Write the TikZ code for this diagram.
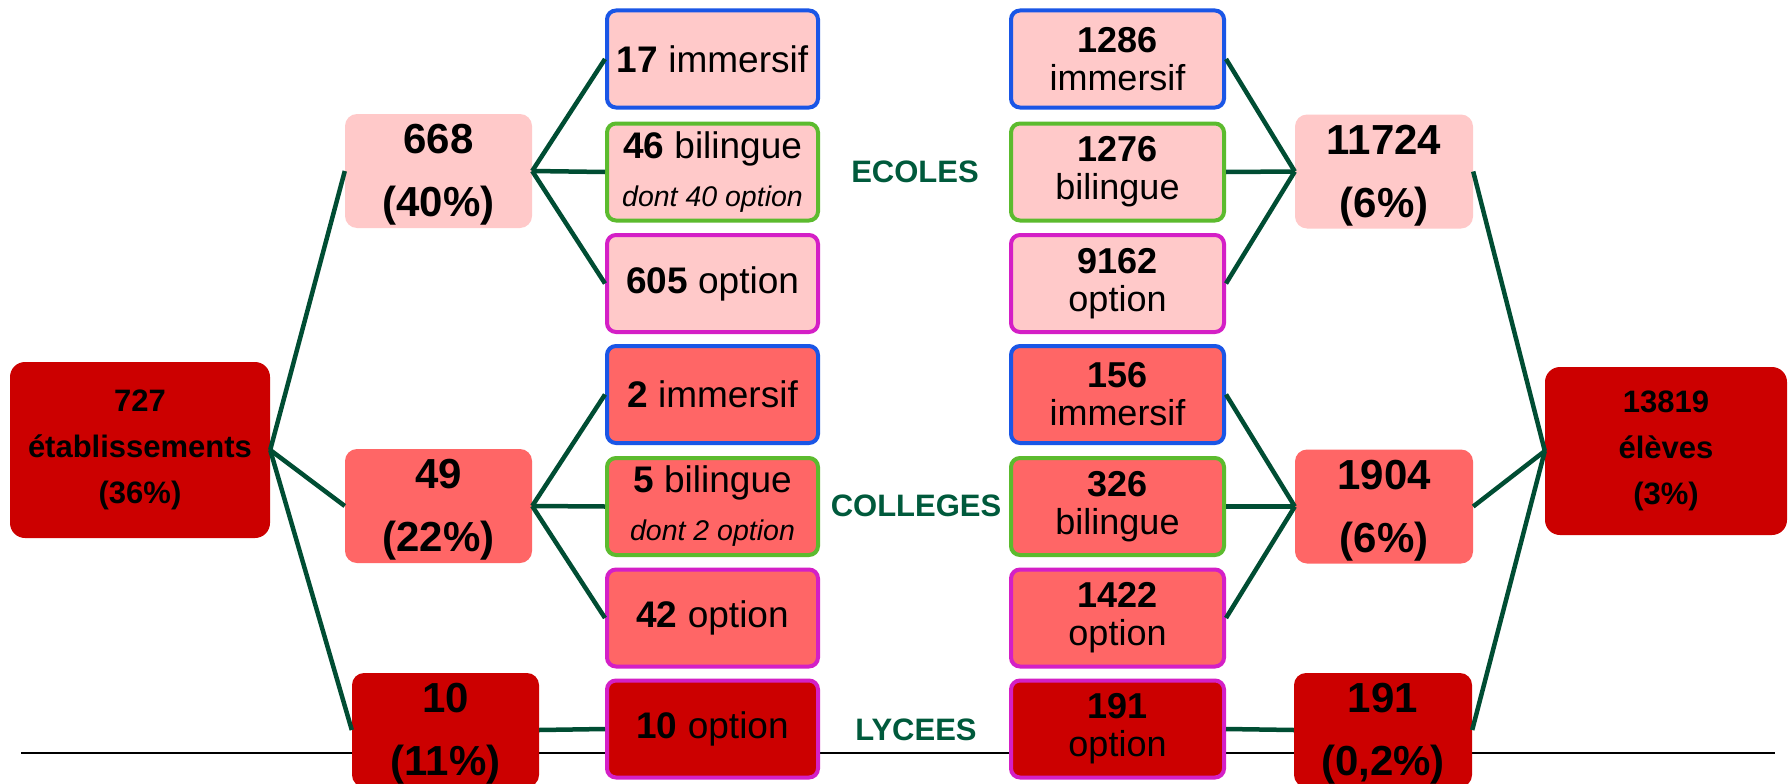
\documentclass[tikz,border=0pt]{standalone}
\usepackage{fontspec}
\setmainfont{Liberation Sans}
\definecolor{pinkL}{HTML}{FFC9C9}
\definecolor{salmon}{HTML}{FF6666}
\definecolor{darkred}{HTML}{CC0000}
\definecolor{bblue}{HTML}{1A56E6}
\definecolor{bgreen}{HTML}{5CBB2E}
\definecolor{bmag}{HTML}{D41FC6}
\definecolor{lnk}{HTML}{004D33}
\definecolor{lab}{HTML}{005A3C}
\newcommand{\aggstrut}{\rule{0pt}{37.5pt}}
\begin{document}
\begin{tikzpicture}[x=1pt,y=-1pt,
 agg/.style={rounded corners=12pt, minimum width=187pt, minimum height=114pt, inner sep=0pt, align=center, font=\fontsize{42}{63}\selectfont\bfseries},
 big/.style={rounded corners=15pt, inner sep=0pt, align=center, fill=darkred, font=\fontsize{31}{46}\selectfont\bfseries},
 sub/.style={rounded corners=9pt, line width=4pt, minimum width=211pt, minimum height=97pt, inner sep=0pt, align=center, font=\fontsize{37}{48}\selectfont},
 subr/.style={sub, minimum width=213pt, font=\fontsize{36}{38}\selectfont},
 lk/.style={draw=lnk, line width=4.5pt},
 lvl/.style={text=lab, inner sep=0pt, font=\fontsize{31}{37}\selectfont\bfseries}
]
\useasboundingbox (0,0) rectangle (1788,784);
\clip (0,0) rectangle (1788,784);
\fill[white] (0,0) rectangle (1788,784);

% base line
\coordinate (bl) at (21,753);
\coordinate (br) at (1775,753);
\draw[line width=1.5pt, black] (bl) -- (br);

% left totals
\node[big, minimum width=260pt, minimum height=176pt] (est) at (140,450) {727\\établissements\\(36\%)};
\node[agg, fill=pinkL] (e1) at (438.5,171) {\aggstrut 668\\(40\%)};
\node[agg, fill=salmon] (e2) at (438.5,506) {\aggstrut 49\\(22\%)};
\node[agg, fill=darkred] (e3) at (445.5,730) {\aggstrut 10\\(11\%)};

% middle left
\node[sub, fill=pinkL, draw=bblue] (l1) at (712.5,59) {\textbf{17} immersif};
\node[sub, fill=pinkL, draw=bgreen] (l2) at (712.5,172) {\textbf{46} bilingue\\{\fontsize{28.5}{48}\selectfont\itshape dont 40 option}};
\node[sub, fill=pinkL, draw=bmag] (l3) at (712.5,283.5) {\textbf{605} option};
\node[sub, fill=salmon, draw=bblue] (l4) at (712.5,394.5) {\textbf{2} immersif};
\node[sub, fill=salmon, draw=bgreen] (l5) at (712.5,506.5) {\textbf{5} bilingue\\{\fontsize{28.5}{48}\selectfont\itshape dont 2 option}};
\node[sub, fill=salmon, draw=bmag] (l6) at (712.5,618) {\textbf{42} option};
\node[sub, fill=darkred, draw=bmag] (l7) at (712.5,729) {\textbf{10} option};

% labels
\node[lvl] (ecoles) at (915,172) {ECOLES};
\node[lvl] (colleges) at (916,506) {COLLEGES};
\node[lvl] (lycees) at (916,730) {LYCEES};

% middle right
\node[subr, fill=pinkL, draw=bblue] (r1) at (1117.5,59) {\textbf{1286}\\immersif};
\node[subr, fill=pinkL, draw=bgreen] (r2) at (1117.5,172) {\textbf{1276}\\bilingue};
\node[subr, fill=pinkL, draw=bmag] (r3) at (1117.5,283.5) {\textbf{9162}\\option};
\node[subr, fill=salmon, draw=bblue] (r4) at (1117.5,394.5) {\textbf{156}\\immersif};
\node[subr, fill=salmon, draw=bgreen] (r5) at (1117.5,506.5) {\textbf{326}\\bilingue};
\node[subr, fill=salmon, draw=bmag] (r6) at (1117.5,618) {\textbf{1422}\\option};
\node[subr, fill=darkred, draw=bmag] (r7) at (1117.5,729) {\textbf{191}\\option};

% right totals
\node[agg, fill=pinkL, minimum width=178pt] (a1) at (1384,171.5) {\aggstrut 11724\\(6\%)};
\node[agg, fill=salmon, minimum width=178pt] (a2) at (1384,506.5) {\aggstrut 1904\\(6\%)};
\node[agg, fill=darkred, minimum width=178pt] (a3) at (1383,730) {\aggstrut 191\\(0,2\%)};
\node[big, minimum width=242pt, minimum height=168pt] (tot) at (1666,451) {13819\\élèves\\(3\%)};

% connectors
\draw[lk] (est.east) -- (e1.west);
\draw[lk] (est.east) -- (e2.west);
\draw[lk] (est.east) -- (e3.west);
\draw[lk] (e1.east) -- (l1.west);
\draw[lk] (e1.east) -- (l2.west);
\draw[lk] (e1.east) -- (l3.west);
\draw[lk] (e2.east) -- (l4.west);
\draw[lk] (e2.east) -- (l5.west);
\draw[lk] (e2.east) -- (l6.west);
\draw[lk] (e3.east) -- (l7.west);
\draw[lk] (r1.east) -- (a1.west);
\draw[lk] (r2.east) -- (a1.west);
\draw[lk] (r3.east) -- (a1.west);
\draw[lk] (r4.east) -- (a2.west);
\draw[lk] (r5.east) -- (a2.west);
\draw[lk] (r6.east) -- (a2.west);
\draw[lk] (r7.east) -- (a3.west);
\draw[lk] (a1.east) -- (tot.west);
\draw[lk] (a2.east) -- (tot.west);
\draw[lk] (a3.east) -- (tot.west);
\end{tikzpicture}
\end{document}
